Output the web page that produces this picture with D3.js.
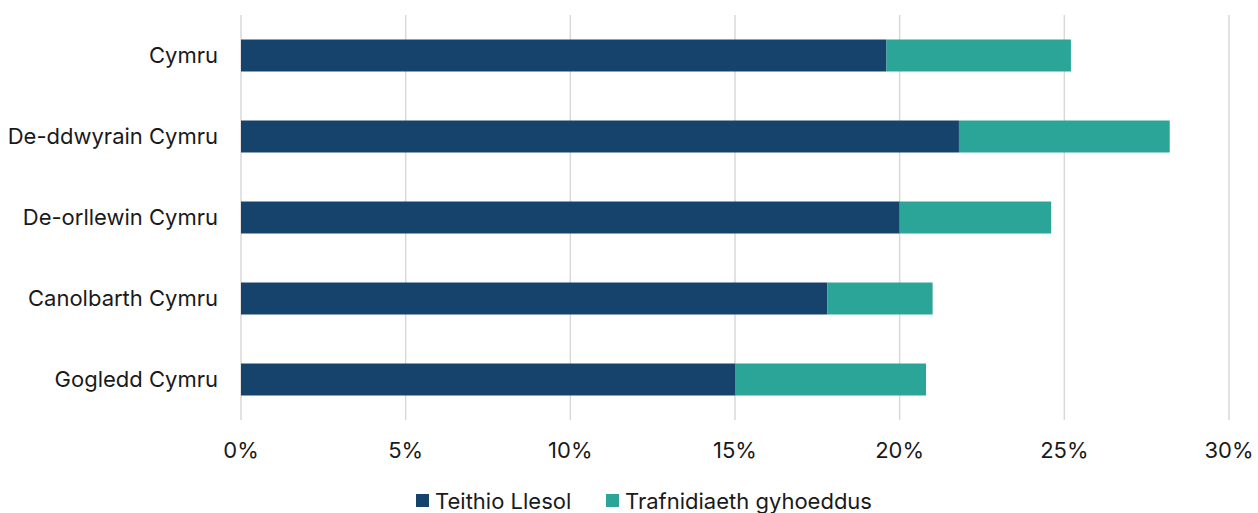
<!DOCTYPE html>
<html>
<head>
<meta charset="utf-8">
<script src="https://cdn.jsdelivr.net/npm/d3@7"></script>
<style>
  body { margin: 0; background: #fff; }
  text { font-family: Inter, "Noto Sans", sans-serif; fill: #1a1a1a; }
</style>
</head>
<body>
<script>
const regions = ["Cymru", "De-ddwyrain Cymru", "De-orllewin Cymru", "Canolbarth Cymru", "Gogledd Cymru"];
const activeTravel = [19.6, 21.8, 20.0, 17.8, 15.0];
const publicTransport = [5.6, 6.4, 4.6, 3.2, 5.8];
const seriesNames = ["Teithio Llesol", "Trafnidiaeth gyhoeddus"];
const xTicks = [0, 5, 10, 15, 20, 25, 30];

function init() {
    var w = 1258;
    var h = 513;
    var colors = ["#16436b", "#2aa598"];

    var dataset = regions.map(function(r, i) {
        return {region: r, a: activeTravel[i], b: publicTransport[i]};
    });

    var xScale = d3.scaleLinear()
        .domain([0, 30])
        .range([241, 1229]);

    var yScale = d3.scaleBand()
        .domain(regions)
        .range([15, 420])
        .paddingInner(0.605)
        .paddingOuter(0.3025);

    var series = d3.stack().keys(["a", "b"])(dataset);

    var svg = d3.select("body")
        .append("svg")
        .attr("width", w)
        .attr("height", h);

    // gridlines
    svg.append("g")
        .selectAll("line")
        .data(xTicks)
        .enter()
        .append("line")
        .attr("x1", function(d) { return xScale(d); })
        .attr("x2", function(d) { return xScale(d); })
        .attr("y1", 15)
        .attr("y2", 420)
        .attr("stroke", "#d9d9d9")
        .attr("stroke-width", 1.5);

    var groups = svg.selectAll("g.series")
        .data(series)
        .enter()
        .append("g")
        .attr("class", "series")
        .style("fill", function(d, i) { return colors[i]; });

    groups.selectAll("rect")
        .data(function(d) { return d; })
        .enter()
        .append("rect")
        .attr("x", function(d) { return xScale(d[0]); })
        .attr("y", function(d) { return yScale(d.data.region); })
        .attr("width", function(d) { return xScale(d[1]) - xScale(d[0]); })
        .attr("height", yScale.bandwidth());

    // category labels
    svg.append("g")
        .selectAll("text")
        .data(regions)
        .enter()
        .append("text")
        .attr("x", 218)
        .attr("y", function(d) { return yScale(d) + yScale.bandwidth() / 2; })
        .attr("dy", "0.35em")
        .attr("text-anchor", "end")
        .style("font-size", "22px")
        .text(function(d) { return d; });

    // x tick labels
    svg.append("g")
        .selectAll("text")
        .data(xTicks)
        .enter()
        .append("text")
        .attr("x", function(d) { return xScale(d); })
        .attr("y", 450)
        .attr("dy", "0.35em")
        .attr("text-anchor", "middle")
        .style("font-size", "22px")
        .text(function(d) { return d + "%"; });

    // legend
    var legendX = [416, 606];
    var legend = svg.append("g")
        .selectAll("g")
        .data(seriesNames)
        .enter()
        .append("g")
        .attr("transform", function(d, i) { return "translate(" + legendX[i] + ",0)"; });

    legend.append("rect")
        .attr("x", 0)
        .attr("y", 494)
        .attr("width", 13)
        .attr("height", 13)
        .style("fill", function(d, i) { return colors[i]; });

    legend.append("text")
        .attr("x", 19)
        .attr("y", 501)
        .attr("dy", "0.35em")
        .style("font-size", "22px")
        .text(function(d) { return d; });
}
window.onload = init;
</script>
</body>
</html>
